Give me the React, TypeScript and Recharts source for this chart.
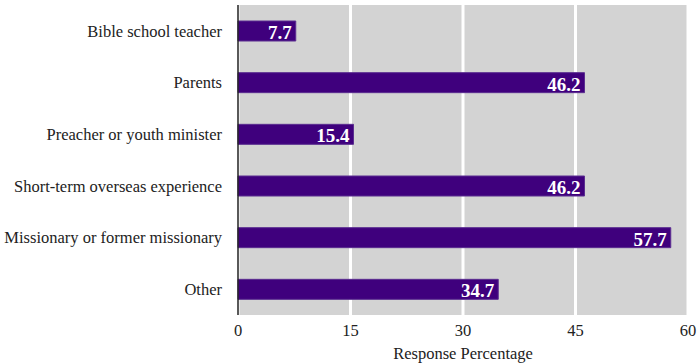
import { Bar, BarChart, CartesianGrid, LabelList, XAxis, YAxis } from 'recharts';

const CATEGORIES = [
  'Bible school teacher',
  'Parents',
  'Preacher or youth minister',
  'Short-term overseas experience',
  'Missionary or former missionary',
  'Other',
];
const VALUES = [7.7, 46.2, 15.4, 46.2, 57.7, 34.7];
const X_TICKS = [0, 15, 30, 45, 60];

const data = CATEGORIES.map((name, i) => ({ name, value: VALUES[i] }));

const FONT = '"Liberation Serif", Georgia, serif';

function BarValue(props: any) {
  const { x, y, width, height, value } = props;
  return (
    <text
      x={x + width - 4}
      y={y + height - 2}
      textAnchor="end"
      fill="#ffffff"
      fontFamily={FONT}
      fontWeight="bold"
      fontSize={19}
    >
      {value}
    </text>
  );
}

export default function App() {
  return (
    <div style={{ position: 'absolute', left: 0, top: 0, width: 700, height: 364, background: '#fff' }}>
      <BarChart
        width={700}
        height={364}
        data={data}
        layout="vertical"
        margin={{ top: 5, right: 12, bottom: 0, left: 0 }}
        barCategoryGap={16}
      >
        <CartesianGrid horizontal={false} stroke="#ffffff" strokeWidth={3} fill="#d3d3d3" />
        <XAxis
          type="number"
          domain={[0, 60]}
          ticks={X_TICKS}
          axisLine={false}
          tickLine={false}
          height={49}
          tick={{ fill: '#222', fontSize: 16.5, fontFamily: FONT }}
          tickMargin={3}
          label={{ value: 'Response Percentage', position: 'insideBottom', offset: 5, fill: '#222', fontSize: 16.5, fontFamily: FONT }}
        />
        <YAxis
          type="category"
          dataKey="name"
          width={238}
          axisLine={{ stroke: '#222', strokeWidth: 1.5 }}
          tickLine={false}
          tickMargin={10}
          tick={{ fill: '#222', fontSize: 16.5, fontFamily: FONT }}
        />
        <Bar dataKey="value" fill="#3f007d" stroke="#5b2d90" strokeWidth={1} barSize={20} isAnimationActive={false}>
          <LabelList dataKey="value" content={<BarValue />} />
        </Bar>
      </BarChart>
    </div>
  );
}
